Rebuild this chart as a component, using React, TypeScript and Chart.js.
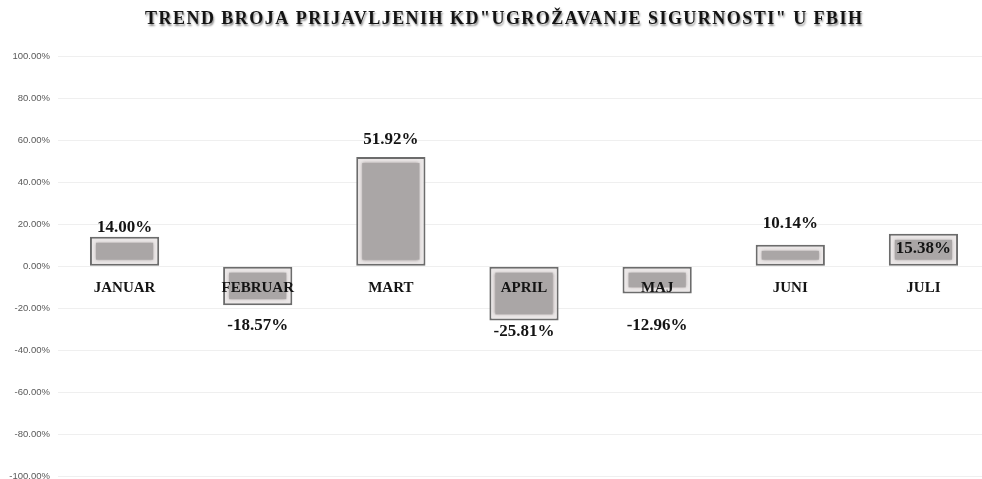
import React, { useEffect, useRef } from 'react';
import { Chart, registerables } from 'chart.js';

Chart.register(...registerables);

const categories = ['JANUAR', 'FEBRUAR', 'MART', 'APRIL', 'MAJ', 'JUNI', 'JULI'];
const changeValues = [14.0, -18.57, 51.92, -25.81, -12.96, 10.14, 15.38];
const valueLabels = ['14.00%', '-18.57%', '51.92%', '-25.81%', '-12.96%', '10.14%', '15.38%'];
const labelOffsets = [-9, 20, -17, 11, 32, -21, 15];
const axisMin = -100;
const axisMax = 100;
const axisStep = 20;
const titleText = 'TREND BROJA PRIJAVLJENIH KD"UGROŽAVANJE SIGURNOSTI" U FBIH';

export default function App() {
  const canvasRef = useRef<HTMLCanvasElement | null>(null);

  useEffect(() => {
    if (!canvasRef.current) return;

    const bevelPlugin = {
      id: 'bevel',
      afterDatasetsDraw(chart: any) {
        const ctx = chart.ctx;
        const meta = chart.getDatasetMeta(0);
        meta.data.forEach((bar: any) => {
          const { x, y, base, width } = bar.getProps(['x', 'y', 'base', 'width'], true);
          const left = x - width / 2;
          const top = Math.min(y, base);
          const bottom = Math.max(y, base);
          const insetX = 6;
          const insetY = 6;
          const h = bottom - top - 2 * insetY;
          if (h <= 0) return;
          ctx.save();
          ctx.fillStyle = '#aaa6a6';
          ctx.shadowColor = 'rgba(110,100,100,0.7)';
          ctx.shadowBlur = 3;
          ctx.fillRect(left + insetX, top + insetY, width - 2 * insetX, h);
          ctx.restore();
        });
      },
    };

    const textPlugin = {
      id: 'texts',
      afterDraw(chart: any) {
        const ctx = chart.ctx;
        const xs = chart.scales.x;
        const ys = chart.scales.y;
        const zero = ys.getPixelForValue(0);
        const meta = chart.getDatasetMeta(0);

        ctx.save();
        ctx.textAlign = 'center';
        ctx.textBaseline = 'middle';
        ctx.fillStyle = '#141414';
        ctx.font = 'bold 15px "Liberation Serif"';
        categories.forEach((c, i) => {
          ctx.fillText(c, xs.getPixelForValue(i), zero + 22);
        });

        ctx.font = 'bold 17px "Liberation Serif"';
        meta.data.forEach((bar: any, i: number) => {
          const { x, y } = bar.getProps(['x', 'y'], true);
          ctx.fillText(valueLabels[i], x, y + labelOffsets[i]);
        });

        // title
        ctx.font = 'bold 18px "Liberation Serif"';
        ctx.textAlign = 'left';
        const targetWidth = 717;
        (ctx as any).letterSpacing = '0px';
        const raw = ctx.measureText(titleText).width;
        const spacing = (targetWidth - raw) / (titleText.length - 1);
        (ctx as any).letterSpacing = spacing + 'px';
        ctx.shadowColor = 'rgba(0,0,0,0.45)';
        ctx.shadowOffsetX = 1;
        ctx.shadowOffsetY = 2;
        ctx.shadowBlur = 2;
        ctx.fillStyle = '#141414';
        ctx.fillText(titleText, 503.5 - targetWidth / 2, 19);
        ctx.restore();
      },
    };

    const chart = new Chart(canvasRef.current, {
      type: 'bar',
      data: {
        labels: categories,
        datasets: [
          {
            data: changeValues,
            backgroundColor: '#ebe7e7',
            borderColor: '#6c6c6c',
            borderWidth: 2,
            borderSkipped: false,
            barPercentage: 0.52,
            categoryPercentage: 1,
          },
        ],
      },
      options: {
        responsive: false,
        animation: false,
        layout: { padding: { top: 56, bottom: 0, left: 0, right: 2 } },
        plugins: {
          legend: { display: false },
          tooltip: { enabled: false },
          title: { display: false },
        },
        scales: {
          x: { display: false },
          y: {
            min: axisMin,
            max: axisMax,
            border: { display: false },
            grid: { color: '#efefef', drawTicks: false },
            ticks: {
              stepSize: axisStep,
              padding: 8,
              color: '#595959',
              font: { family: '"Liberation Sans"', size: 9.5 },
              callback: (v: any) => Number(v).toFixed(2) + '%',
            },
            afterFit: (scale: any) => {
              scale.width = 58;
            },
          },
        },
      },
      plugins: [bevelPlugin, textPlugin],
    });

    return () => chart.destroy();
  }, []);

  return (
    <div
      style={{
        position: 'absolute',
        left: 0,
        top: 0,
        width: 982,
        height: 479,
        overflow: 'hidden',
        background: '#ffffff',
      }}
    >
      <canvas ref={canvasRef} width={992} height={490} style={{ width: 992, height: 490 }} />
    </div>
  );
}
